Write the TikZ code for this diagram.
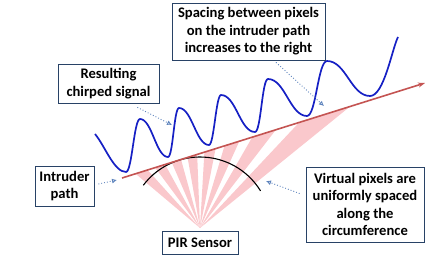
\documentclass[tikz,border=0pt]{standalone}
\usepackage{fontspec}
\setmainfont{Carlito}
\usepackage{tikz}
\usetikzlibrary{arrows.meta,calc}
\definecolor{signalblue}{RGB}{22,32,196}
\definecolor{pathred}   {RGB}{196,84,82}
\definecolor{wedgepink} {RGB}{250,200,204}
\definecolor{boxnavy}   {RGB}{40,66,102}
\definecolor{arrowblue} {RGB}{92,130,188}

\begin{document}
\begin{tikzpicture}[
  x=1pt, y=-1pt,
  note/.style={draw=boxnavy, line width=0.8pt, fill=white, align=center,
               font=\fontsize{14.6}{17.6}\selectfont\bfseries, inner sep=1pt},
  callout/.style={draw=arrowblue, line width=0.9pt, dotted,
                  -{Latex[open, length=5pt, width=5pt]}},
  wedge/.style={fill=wedgepink},
]
\useasboundingbox (0,0) rectangle (436,280);

% Geometry
\coordinate (apex)  at (200,228);
\coordinate (pathL) at (122,178);
\coordinate (pathR) at (425,83);

% Virtual pixel wedges
\foreach \k in {0,...,7}{
  \pgfmathsetmacro{\ra}{-136+13.3*\k-3.9}
  \pgfmathsetmacro{\rb}{-136+13.3*\k+3.9}
  \coordinate (ra) at ($(apex)+(\ra:320)$);
  \coordinate (rb) at ($(apex)+(\rb:320)$);
  \fill[wedge] (apex) -- (intersection of pathL--pathR and apex--ra)
                      -- (intersection of pathL--pathR and apex--rb) -- cycle;
}

% Circumference
\draw[black, line width=1.1pt] ($(apex)+(-143:71)$) arc[start angle=-143, end angle=-31.5, radius=71];

% Intruder path
\draw[pathred, line width=1.6pt, -{Stealth[length=7pt, width=5pt]}] (pathL) -- (pathR);

% Chirped signal
\draw[signalblue, line width=1.7pt]
  (95,134) .. controls +(10,12) and +(-12,0) .. (126,172)
  .. controls +(6,0) and +(-6,0) .. (140,119)
  .. controls +(12,0) and +(-12,0) .. (168,157)
  .. controls +(5,0) and +(-5,0) .. (179,108)
  .. controls +(13,0) and +(-13,0) .. (209,145)
  .. controls +(5,0) and +(-5,0) .. (221,95)
  .. controls +(15,0) and +(-15,0) .. (255,132)
  .. controls +(6,0) and +(-6,0) .. (268,79)
  .. controls +(17,0) and +(-17,0) .. (307,116)
  .. controls +(9,0) and +(-9,0) .. (327,61)
  .. controls +(19,0) and +(-19,0) .. (370,96)
  .. controls +(14,0) and +(-6,12) .. (398,37);

% Text boxes
\node[note, minimum width=153, minimum height=57] (spacingbox) at (248.5,31.5)
  {Spacing between pixels\\on the intruder path\\increases to the right};
\node[note, minimum width=101, minimum height=39] (signalbox) at (108.5,83.5)
  {Resulting\\chirped signal};
\node[note, minimum width=59, minimum height=40] (pathbox) at (64.5,186)
  {Intruder\\path};
\node[note, minimum width=76, minimum height=23] (sensorbox) at (200,242.5)
  {PIR Sensor};
\node[note, minimum width=118, minimum height=75] (pixelbox) at (365,204.5)
  {Virtual pixels are\\uniformly spaced\\along the\\circumference};

% Callouts
\coordinate (sigtip)   at (172,125);
\coordinate (spacetip) at (324,106);
\coordinate (pathtip)  at (117,180);
\coordinate (pixeltip) at (266,181);
\draw[callout] ($(signalbox.south east)+(-22,4)$) -- (sigtip);
\draw[callout] ($(spacingbox.south)+(27.5,2)$) -- (spacetip);
\draw[callout] ($(pathbox.east)+(4,-2)$) -- (pathtip);
\draw[callout] ($(pixelbox.west)+(-6,-11)$) -- (pixeltip);

\end{tikzpicture}
\end{document}
